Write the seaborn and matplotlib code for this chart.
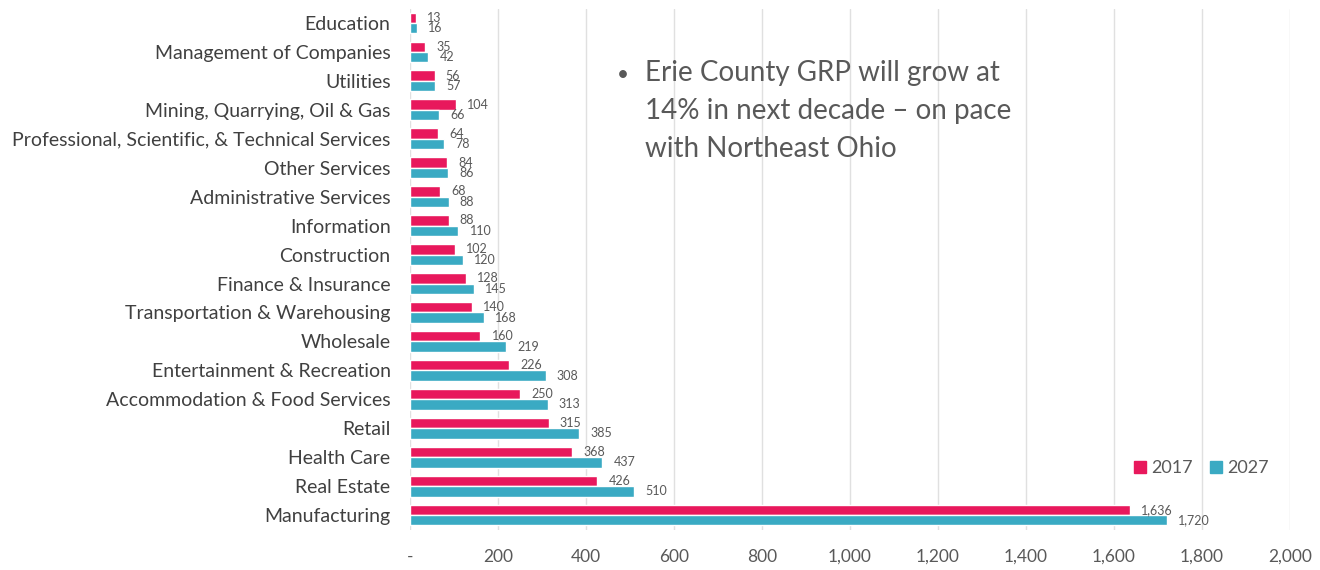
import pandas as pd
import seaborn as sns
import matplotlib.pyplot as plt
from matplotlib.lines import Line2D
from matplotlib.ticker import FuncFormatter

# Data (top to bottom)
industries = [
    "Education", "Management of Companies", "Utilities",
    "Mining, Quarrying, Oil & Gas",
    "Professional, Scientific, & Technical Services", "Other Services",
    "Administrative Services", "Information", "Construction",
    "Finance & Insurance", "Transportation & Warehousing", "Wholesale",
    "Entertainment & Recreation", "Accommodation & Food Services", "Retail",
    "Health Care", "Real Estate", "Manufacturing",
]
grp_2017 = [13, 35, 56, 104, 64, 84, 68, 88, 102, 128, 140, 160, 226, 250, 315, 368, 426, 1636]
grp_2027 = [16, 42, 57, 66, 78, 86, 88, 110, 120, 145, 168, 219, 308, 313, 385, 437, 510, 1720]
years = ["2017", "2027"]
x_ticks = [0, 200, 400, 600, 800, 1000, 1200, 1400, 1600, 1800, 2000]

df = pd.DataFrame({
    "industry": industries * 2,
    "year": [years[0]] * len(industries) + [years[1]] * len(industries),
    "grp": grp_2017 + grp_2027,
})

pink = "#E8185C"
teal = "#3AAAC3"
gray = "#595959"

sns.set_style("white")
plt.rcParams['font.family'] = ['Lato', 'DejaVu Sans']

fig = plt.figure(figsize=(13.2, 5.7), dpi=100)
ax = fig.add_axes([0.3106, 0.071, 0.6667, 0.914])

sns.barplot(data=df, y="industry", x="grp", hue="year", order=industries,
            hue_order=years, palette=[pink, teal], width=0.72,
            orient="h", ax=ax, legend=False, saturation=1)

for cont in ax.containers:
    ax.bar_label(cont, labels=[f"{v:,.0f}" for v in cont.datavalues],
                 padding=8, fontsize=9, color=gray)

ax.set_xlim(0, 2000)
ax.set_xticks(x_ticks)
ax.xaxis.set_major_formatter(FuncFormatter(lambda v, p: "-" if v == 0 else f"{v:,.0f}"))
ax.set_xlabel("")
ax.set_ylabel("")
ax.tick_params(axis="x", labelsize=12.5, colors=gray, length=0, pad=14)
ax.tick_params(axis="y", labelsize=14, colors="#404040", length=0, pad=14)
ax.grid(axis="x", color="#e0e0e0", linewidth=1)
ax.set_axisbelow(True)
for s in ax.spines.values():
    s.set_visible(False)

# Legend
handles = [Line2D([], [], marker="s", linestyle="", color=c, markersize=9) for c in (pink, teal)]
ax.legend(handles, years, ncol=2, frameon=False, fontsize=13,
          loc="center", bbox_to_anchor=(1200 / 1320, 1 - 468 / 570),
          bbox_transform=fig.transFigure, handletextpad=0.1, columnspacing=0.8,
          handlelength=1.0, labelcolor=gray)

# Callout text
fig.text(617 / 1320, 1 - 75 / 570, "\u2022", fontsize=15, color=gray, va="center")
fig.text(645 / 1320, 1 - 60 / 570,
         "Erie County GRP will grow at\n14% in next decade \u2013 on pace\nwith Northeast Ohio",
         fontsize=20, color=gray, va="top", ha="left", linespacing=1.56)

fig.savefig("out.png", dpi=100)
